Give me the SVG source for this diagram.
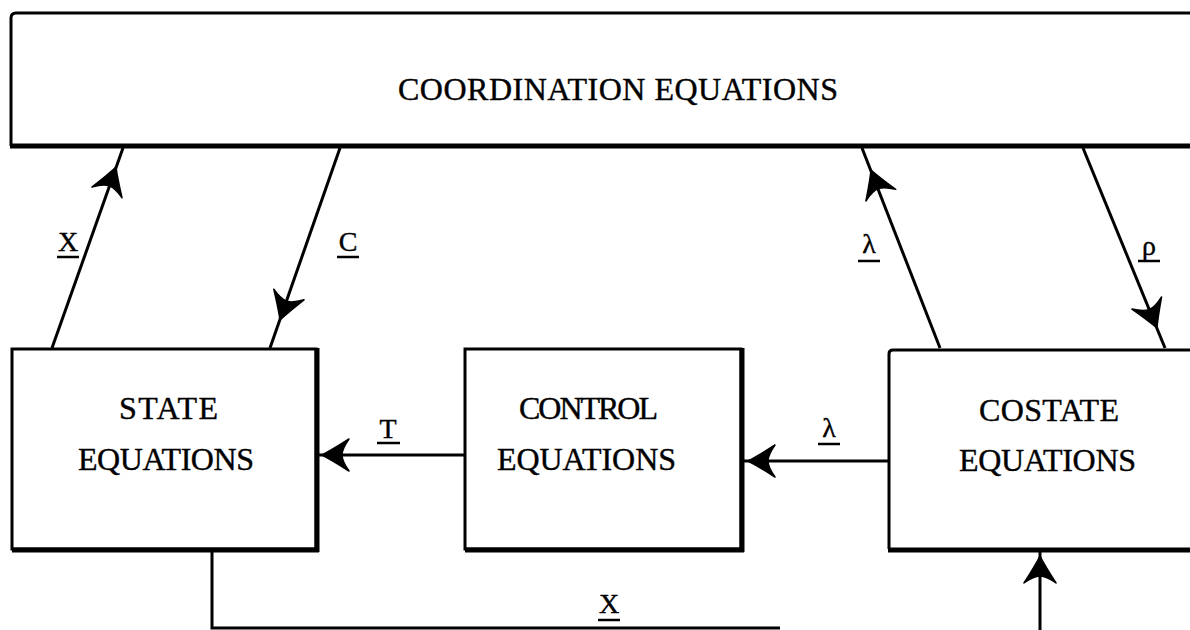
<svg xmlns="http://www.w3.org/2000/svg" xmlns:xlink="http://www.w3.org/1999/xlink" width="1190" height="630" viewBox="0 0 1190 630">
<style>
.box{fill:none;stroke:#000;stroke-width:3}
.shadow{stroke:#000;stroke-width:5;fill:none}
.ln{fill:none;stroke:#000;stroke-width:3;stroke-linejoin:miter}
.t{font-family:"Liberation Serif","Times New Roman",serif;font-size:32px;fill:#000;stroke:#000;stroke-width:0.4}
.lb{font-family:"Liberation Serif","Times New Roman",serif;font-size:28px;fill:#000;stroke:#000;stroke-width:0.4}
.ul{stroke:#000;stroke-width:2.5}
</style>
<defs>
<path id="ah" d="M0,0 C-6,-3 -16,-9 -27,-16 C-22,-9 -20,-4 -20,0 C-20,4 -22,9 -27,16 C-16,9 -6,3 0,0 Z" fill="#000" stroke="#000" stroke-width="1.5" stroke-linejoin="round"/>
</defs>
<rect width="1190" height="630" fill="#fff"/>

<g id="coordination">
<path class="box" d="M1192,13 L16,13 Q11,13 11,18 L11,146"/>
<line class="shadow" x1="10" y1="146" x2="1192" y2="146"/>
<text class="t" x="398" y="100" textLength="440" lengthAdjust="spacing">COORDINATION EQUATIONS</text>
</g>

<g id="state">
<rect class="box" x="12" y="349" width="304" height="200"/>
<line class="shadow" x1="317" y1="348" x2="317" y2="552"/>
<line class="shadow" x1="12" y1="550" x2="319" y2="550"/>
<text class="t" x="119" y="419" textLength="99" lengthAdjust="spacing">STATE</text>
<text class="t" x="78" y="470" textLength="176" lengthAdjust="spacing">EQUATIONS</text>
</g>

<g id="control">
<rect class="box" x="465" y="349" width="276" height="200"/>
<line class="shadow" x1="742" y1="348" x2="742" y2="552"/>
<line class="shadow" x1="465" y1="550" x2="744" y2="550"/>
<text class="t" x="519" y="419" textLength="139" lengthAdjust="spacing">CONTROL</text>
<text class="t" x="497" y="470" textLength="179" lengthAdjust="spacing">EQUATIONS</text>
</g>

<g id="costate">
<path class="box" d="M1192,350 L893,350 Q889,350 889,354 L889,549"/>
<line class="shadow" x1="888" y1="550" x2="1192" y2="550"/>
<text class="t" x="979" y="421" textLength="140" lengthAdjust="spacing">COSTATE</text>
<text class="t" x="959" y="471" textLength="177" lengthAdjust="spacing">EQUATIONS</text>
</g>

<g id="connectors">
<line class="ln" x1="52" y1="348" x2="123" y2="148"/>
<use xlink:href="#ah" transform="translate(116,167) rotate(-70.45)"/>
<line class="ln" x1="340" y1="148" x2="270" y2="348"/>
<use xlink:href="#ah" transform="translate(280,320) rotate(109.3)"/>
<line class="ln" x1="940" y1="348" x2="862" y2="148"/>
<use xlink:href="#ah" transform="translate(871,170) rotate(-111.3)"/>
<line class="ln" x1="1083" y1="148" x2="1165" y2="348"/>
<use xlink:href="#ah" transform="translate(1157,328) rotate(67.7)"/>
<line class="ln" x1="465" y1="455" x2="318" y2="455"/>
<use xlink:href="#ah" transform="translate(322,455) rotate(180)"/>
<line class="ln" x1="889" y1="461" x2="742" y2="461"/>
<use xlink:href="#ah" transform="translate(748,461) rotate(180)"/>
<path class="ln" d="M212,552 L212,628 L780,628" stroke-width="2.5"/>
<line class="ln" x1="1040" y1="632" x2="1040" y2="552"/>
<use xlink:href="#ah" transform="translate(1040,556) rotate(-90)"/>
</g>

<g id="labels">
<text class="lb" x="68" y="251" text-anchor="middle">X</text>
<line class="ul" x1="57" y1="257" x2="79" y2="257"/>
<text class="lb" x="348" y="251" text-anchor="middle">C</text>
<line class="ul" x1="337" y1="257" x2="359" y2="257"/>
<text class="lb" x="869" y="253" text-anchor="middle">λ</text>
<line class="ul" x1="858" y1="261" x2="880" y2="261"/>
<text class="lb" x="1149" y="255" text-anchor="middle">ρ</text>
<line class="ul" x1="1138" y1="261" x2="1160" y2="261"/>
<text class="lb" x="388" y="438" text-anchor="middle">T</text>
<line class="ul" x1="377" y1="443" x2="400" y2="443"/>
<text class="lb" x="829" y="437" text-anchor="middle">λ</text>
<line class="ul" x1="818" y1="444" x2="840" y2="444"/>
<text class="lb" x="609" y="613" text-anchor="middle">X</text>
<line class="ul" x1="598" y1="620" x2="620" y2="620"/>
</g>
</svg>
